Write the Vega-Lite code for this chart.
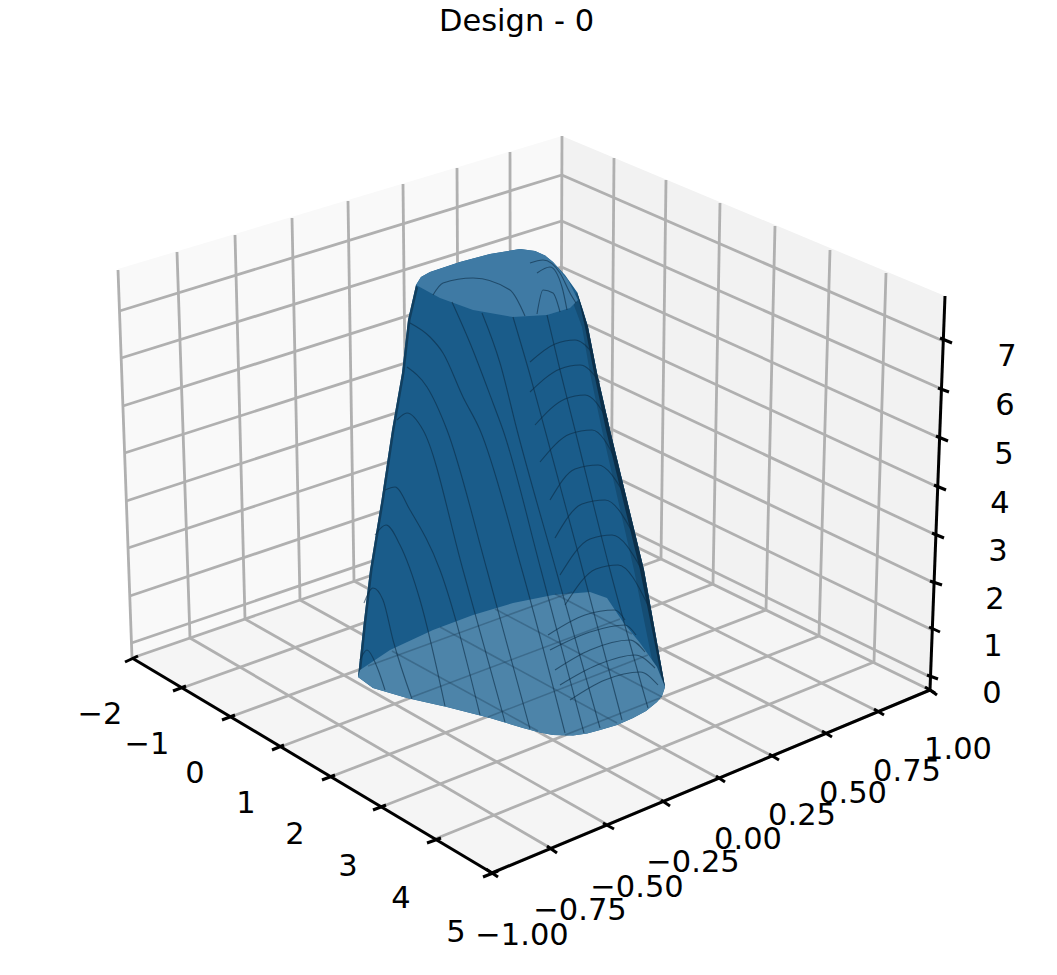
{"$schema":"https://vega.github.io/schema/vega-lite/v6.json","width":1057,"height":975,"padding":0,"autosize":"none","background":"white","view":{"stroke":null},
"title":{"text":"Design - 0","font":"DejaVu Sans","fontSize":30.5,"fontWeight":"normal","color":"#000000","anchor":"middle","orient":"top","offset":-37,"dx":-12},
"datasets":{
"panes":[
{"part":"left wall","i":0,"x":118,"y":269},{"part":"left wall","i":1,"x":562,"y":136},{"part":"left wall","i":2,"x":560.5,"y":510},{"part":"left wall","i":3,"x":132,"y":658},
{"part":"right wall","i":0,"x":562,"y":136},{"part":"right wall","i":1,"x":945,"y":296},{"part":"right wall","i":2,"x":930,"y":690},{"part":"right wall","i":3,"x":560.5,"y":510},
{"part":"floor","i":0,"x":132,"y":658},{"part":"floor","i":1,"x":560.5,"y":510},{"part":"floor","i":2,"x":930,"y":690},{"part":"floor","i":3,"x":492,"y":873}],
"grid":[
{"a":118,"b":270,"c":132,"d":658},{"a":177,"b":252,"c":190,"d":638},{"a":235,"b":235,"c":245,"d":619},{"a":292,"b":218,"c":300,"d":600},{"a":348,"b":201,"c":354,"d":581},{"a":403,"b":184,"c":407,"d":563},{"a":457,"b":168,"c":459,"d":545},{"a":510,"b":152,"c":510.5,"d":527},{"a":562,"b":136,"c":560.5,"d":510},
{"a":614,"b":158,"c":611,"d":534},{"a":666,"b":180,"c":661,"d":559},{"a":720,"b":203,"c":713,"d":584},{"a":775,"b":226,"c":766,"d":610},{"a":830,"b":250,"c":819,"d":636},{"a":886,"b":273,"c":874,"d":662},
{"a":131.5,"b":643,"c":560.6,"d":497},{"a":129.8,"b":596,"c":560.7,"d":451},{"a":128,"b":548,"c":560.9,"d":405},{"a":126.3,"b":501,"c":561.1,"d":359},{"a":124.6,"b":453,"c":561.3,"d":313},{"a":122.9,"b":406,"c":561.5,"d":267},{"a":121.2,"b":358,"c":561.7,"d":221},{"a":119.5,"b":311,"c":561.8,"d":175},
{"a":560.6,"b":497,"c":930.5,"d":677},{"a":560.7,"b":451,"c":932.3,"d":630},{"a":560.9,"b":405,"c":934.1,"d":583},{"a":561.1,"b":359,"c":935.9,"d":535},{"a":561.3,"b":313,"c":937.7,"d":487},{"a":561.5,"b":267,"c":939.6,"d":438},{"a":561.7,"b":221,"c":941.5,"d":389},{"a":561.8,"b":175,"c":943.3,"d":341},
{"a":132,"b":658,"c":560.5,"d":510},{"a":182,"b":688,"c":611,"d":534},{"a":230,"b":717,"c":661,"d":559},{"a":280,"b":747,"c":713,"d":584},{"a":330,"b":777,"c":766,"d":610},{"a":381,"b":807,"c":819,"d":636},{"a":435,"b":839,"c":874,"d":662},{"a":491,"b":873,"c":930,"d":690},
{"a":552,"b":849,"c":190,"d":638},{"a":608,"b":825,"c":245,"d":619},{"a":665,"b":802,"c":300,"d":600},{"a":720,"b":779,"c":354,"d":581},{"a":774,"b":757,"c":407,"d":563},{"a":827,"b":734,"c":459,"d":545},{"a":879,"b":712,"c":510.5,"d":527},{"a":930,"b":690,"c":560.5,"d":510}],
"body":[
{"part":"side","i":0,"x":416,"y":285},{"part":"side","i":1,"x":408,"y":320},{"part":"side","i":2,"x":402,"y":373},{"part":"side","i":3,"x":392,"y":430},{"part":"side","i":4,"x":381.5,"y":500},{"part":"side","i":5,"x":370,"y":570},{"part":"side","i":5.5,"x":363.5,"y":625},{"part":"side","i":6,"x":358,"y":677},{"part":"side","i":7,"x":373,"y":688},{"part":"side","i":8,"x":407,"y":698},{"part":"side","i":9,"x":447,"y":707},{"part":"side","i":10,"x":490,"y":718},{"part":"side","i":11,"x":523,"y":728},{"part":"side","i":11.5,"x":540,"y":732.5},{"part":"side","i":12,"x":553,"y":735},{"part":"side","i":13,"x":573,"y":735.5},{"part":"side","i":13.5,"x":587,"y":733.5},{"part":"side","i":14,"x":600,"y":730},{"part":"side","i":14.5,"x":617,"y":725},{"part":"side","i":15,"x":633,"y":718},{"part":"side","i":15.5,"x":646,"y":711},{"part":"side","i":16,"x":657,"y":702},{"part":"side","i":16.5,"x":662,"y":696},{"part":"side","i":17,"x":665,"y":687},{"part":"side","i":18,"x":644,"y":570},{"part":"side","i":19,"x":627,"y":500},{"part":"side","i":20,"x":610,"y":430},{"part":"side","i":21,"x":597,"y":373},{"part":"side","i":22,"x":588,"y":327},{"part":"side","i":22.5,"x":583,"y":310},{"part":"side","i":23,"x":577,"y":292},{"part":"side","i":23.5,"x":565,"y":275},{"part":"side","i":24,"x":553,"y":262},{"part":"side","i":24.5,"x":545,"y":255.5},{"part":"side","i":25,"x":535,"y":251},{"part":"side","i":26,"x":520,"y":249},{"part":"side","i":27,"x":490,"y":254},{"part":"side","i":28,"x":460,"y":262},{"part":"side","i":29,"x":430,"y":272},{"part":"side","i":29.5,"x":421,"y":277},
{"part":"shade right","i":0,"x":577,"y":292},{"part":"shade right","i":1,"x":588,"y":327},{"part":"shade right","i":2,"x":597,"y":373},{"part":"shade right","i":3,"x":610,"y":430},{"part":"shade right","i":4,"x":627,"y":500},{"part":"shade right","i":5,"x":644,"y":570},{"part":"shade right","i":6,"x":665,"y":687},{"part":"shade right","i":7,"x":655,"y":675},{"part":"shade right","i":8,"x":634,"y":570},{"part":"shade right","i":9,"x":618,"y":500},{"part":"shade right","i":10,"x":602,"y":430},{"part":"shade right","i":11,"x":590,"y":373},{"part":"shade right","i":12,"x":582,"y":327},{"part":"shade right","i":13,"x":572,"y":300},
{"part":"edge right","i":0,"x":577,"y":292},{"part":"edge right","i":1,"x":588,"y":327},{"part":"edge right","i":2,"x":597,"y":373},{"part":"edge right","i":3,"x":610,"y":430},{"part":"edge right","i":4,"x":627,"y":500},{"part":"edge right","i":5,"x":644,"y":570},{"part":"edge right","i":6,"x":665,"y":687},{"part":"edge right","i":7,"x":661,"y":675},{"part":"edge right","i":8,"x":640,"y":570},{"part":"edge right","i":9,"x":623,"y":500},{"part":"edge right","i":10,"x":606,"y":430},{"part":"edge right","i":11,"x":594,"y":373},{"part":"edge right","i":12,"x":585,"y":327},
{"part":"edge left","i":0,"x":416,"y":285},{"part":"edge left","i":1,"x":408,"y":320},{"part":"edge left","i":2,"x":402,"y":373},{"part":"edge left","i":3,"x":392,"y":430},{"part":"edge left","i":4,"x":381.5,"y":500},{"part":"edge left","i":5,"x":370,"y":570},{"part":"edge left","i":5.5,"x":363.5,"y":625},{"part":"edge left","i":6,"x":358,"y":677},{"part":"edge left","i":7,"x":361,"y":672},{"part":"edge left","i":7.5,"x":366,"y":625},{"part":"edge left","i":8,"x":372.5,"y":570},{"part":"edge left","i":9,"x":384,"y":500},{"part":"edge left","i":10,"x":394.5,"y":430},{"part":"edge left","i":11,"x":404.5,"y":373},{"part":"edge left","i":12,"x":410.5,"y":320},{"part":"edge left","i":13,"x":418,"y":288},
{"part":"top","i":0,"x":416,"y":285},{"part":"top","i":0.5,"x":421,"y":277},{"part":"top","i":1,"x":430,"y":272},{"part":"top","i":2,"x":460,"y":262},{"part":"top","i":3,"x":490,"y":254},{"part":"top","i":4,"x":520,"y":249},{"part":"top","i":5,"x":535,"y":251},{"part":"top","i":5.5,"x":545,"y":255.5},{"part":"top","i":6,"x":553,"y":262},{"part":"top","i":7,"x":568,"y":280},{"part":"top","i":8,"x":578,"y":300},{"part":"top","i":9,"x":570,"y":308},{"part":"top","i":10,"x":547,"y":315},{"part":"top","i":11,"x":513,"y":317},{"part":"top","i":12,"x":473,"y":310},{"part":"top","i":13,"x":440,"y":298},
{"part":"bottom","i":0,"x":358,"y":677},{"part":"bottom","i":1,"x":360,"y":670},{"part":"bottom","i":2,"x":390,"y":650},{"part":"bottom","i":3,"x":433,"y":630},{"part":"bottom","i":4,"x":473,"y":615},{"part":"bottom","i":5,"x":513,"y":603},{"part":"bottom","i":6,"x":553,"y":595},{"part":"bottom","i":7,"x":590,"y":592},{"part":"bottom","i":8,"x":607,"y":598},{"part":"bottom","i":9,"x":623,"y":622},{"part":"bottom","i":10,"x":640,"y":643},{"part":"bottom","i":11,"x":657,"y":667},{"part":"bottom","i":12,"x":665,"y":687},{"part":"bottom","i":12.5,"x":662,"y":696},{"part":"bottom","i":13,"x":657,"y":702},{"part":"bottom","i":13.5,"x":646,"y":711},{"part":"bottom","i":14,"x":633,"y":718},{"part":"bottom","i":14.5,"x":617,"y":725},{"part":"bottom","i":15,"x":600,"y":730},{"part":"bottom","i":15.5,"x":587,"y":733.5},{"part":"bottom","i":16,"x":573,"y":735.5},{"part":"bottom","i":17,"x":553,"y":735},{"part":"bottom","i":17.5,"x":540,"y":732.5},{"part":"bottom","i":18,"x":523,"y":728},{"part":"bottom","i":19,"x":490,"y":718},{"part":"bottom","i":20,"x":447,"y":707},{"part":"bottom","i":21,"x":407,"y":698},{"part":"bottom","i":22,"x":373,"y":688}],
"through":[
{"a":392,"b":651,"c":538,"d":731},{"a":440,"b":627,"c":617,"d":723},{"a":495,"b":609,"c":662,"d":697},{"a":555,"b":594,"c":632,"d":634},{"a":412,"b":697,"c":620,"d":619},{"a":368,"b":666,"c":572,"d":592},{"a":488,"b":717,"c":648,"d":655},{"a":565,"b":735,"c":660,"d":698}],
"curves":[
{"c":"a1","i":0,"x":410,"y":323},{"c":"a1","i":1,"x":430,"y":337},{"c":"a1","i":2,"x":443,"y":353},{"c":"a1","i":3,"x":463,"y":397},{"c":"a1","i":4,"x":480,"y":430},{"c":"a1","i":5,"x":522,"y":570},{"c":"a1","i":6,"x":565,"y":733},
{"c":"a2","i":0,"x":452,"y":302},{"c":"a2","i":1,"x":470,"y":343},{"c":"a2","i":2,"x":493,"y":403},{"c":"a2","i":3,"x":503,"y":430},{"c":"a2","i":4,"x":541,"y":570},{"c":"a2","i":5,"x":584,"y":733},
{"c":"a3","i":0,"x":482,"y":313},{"c":"a3","i":1,"x":500,"y":363},{"c":"a3","i":2,"x":517,"y":430},{"c":"a3","i":3,"x":556,"y":570},{"c":"a3","i":4,"x":600,"y":728},
{"c":"a4","i":0,"x":407,"y":367},{"c":"a4","i":1,"x":427,"y":387},{"c":"a4","i":2,"x":447,"y":430},{"c":"a4","i":3,"x":487,"y":570},{"c":"a4","i":4,"x":530,"y":729},
{"c":"a5","i":0,"x":397,"y":420},{"c":"a5","i":1,"x":407,"y":413},{"c":"a5","i":2,"x":423,"y":430},{"c":"a5","i":3,"x":463,"y":570},{"c":"a5","i":4,"x":505,"y":722},
{"c":"a6","i":0,"x":385,"y":490},{"c":"a6","i":1,"x":395,"y":487},{"c":"a6","i":2,"x":410,"y":510},{"c":"a6","i":3,"x":440,"y":570},{"c":"a6","i":4,"x":480,"y":715},
{"c":"a7","i":0,"x":375,"y":535},{"c":"a7","i":1,"x":386,"y":525},{"c":"a7","i":2,"x":400,"y":545},{"c":"a7","i":3,"x":420,"y":600},{"c":"a7","i":4,"x":445,"y":706},
{"c":"a8","i":0,"x":364,"y":603},{"c":"a8","i":1,"x":373,"y":588},{"c":"a8","i":2,"x":383,"y":600},{"c":"a8","i":3,"x":393,"y":640},{"c":"a8","i":4,"x":412,"y":699},
{"c":"a9","i":0,"x":360,"y":660},{"c":"a9","i":1,"x":367,"y":650},{"c":"a9","i":2,"x":377,"y":667},{"c":"a9","i":3,"x":385,"y":690},
{"c":"b1","i":0,"x":513,"y":317},{"c":"b1","i":1,"x":530,"y":375},{"c":"b1","i":2,"x":545,"y":430},{"c":"b1","i":3,"x":580,"y":560},{"c":"b1","i":4,"x":622,"y":720},
{"c":"b2","i":0,"x":547,"y":315},{"c":"b2","i":1,"x":560,"y":370},{"c":"b2","i":2,"x":575,"y":430},{"c":"b2","i":3,"x":610,"y":570},{"c":"b2","i":4,"x":648,"y":708},
{"c":"d1","i":0,"x":530,"y":362},{"c":"d1","i":1,"x":555,"y":344},{"c":"d1","i":2,"x":575,"y":340},{"c":"d1","i":3,"x":592,"y":352},
{"c":"d2","i":0,"x":530,"y":392},{"c":"d2","i":1,"x":560,"y":369},{"c":"d2","i":2,"x":580,"y":365},{"c":"d2","i":3,"x":600,"y":382},
{"c":"d3","i":0,"x":535,"y":425},{"c":"d3","i":1,"x":565,"y":399},{"c":"d3","i":2,"x":585,"y":395},{"c":"d3","i":3,"x":608,"y":420},
{"c":"d4","i":0,"x":540,"y":462},{"c":"d4","i":1,"x":570,"y":434},{"c":"d4","i":2,"x":592,"y":430},{"c":"d4","i":3,"x":617,"y":462},
{"c":"d5","i":0,"x":550,"y":500},{"c":"d5","i":1,"x":575,"y":469},{"c":"d5","i":2,"x":598,"y":465},{"c":"d5","i":3,"x":625,"y":495},
{"c":"d6","i":0,"x":555,"y":538},{"c":"d6","i":1,"x":582,"y":504},{"c":"d6","i":2,"x":605,"y":500},{"c":"d6","i":3,"x":634,"y":535},
{"c":"d7","i":0,"x":560,"y":575},{"c":"d7","i":1,"x":590,"y":539},{"c":"d7","i":2,"x":612,"y":535},{"c":"d7","i":3,"x":642,"y":570},
{"c":"d8","i":0,"x":565,"y":605},{"c":"d8","i":1,"x":596,"y":569},{"c":"d8","i":2,"x":618,"y":565},{"c":"d8","i":3,"x":648,"y":605},
{"c":"f1","i":0,"x":570,"y":700},{"c":"f1","i":1,"x":605,"y":680},{"c":"f1","i":2,"x":640,"y":672},{"c":"f1","i":3,"x":658,"y":685},
{"c":"f2","i":0,"x":560,"y":685},{"c":"f2","i":1,"x":597,"y":665},{"c":"f2","i":2,"x":635,"y":655},{"c":"f2","i":3,"x":655,"y":668},
{"c":"f3","i":0,"x":555,"y":670},{"c":"f3","i":1,"x":590,"y":650},{"c":"f3","i":2,"x":630,"y":640},{"c":"f3","i":3,"x":645,"y":652},
{"c":"f4","i":0,"x":550,"y":650},{"c":"f4","i":1,"x":590,"y":632},{"c":"f4","i":2,"x":625,"y":625},{"c":"f4","i":3,"x":636,"y":635},
{"c":"f5","i":0,"x":548,"y":635},{"c":"f5","i":1,"x":585,"y":615},{"c":"f5","i":2,"x":615,"y":610},{"c":"f5","i":3,"x":625,"y":620},
{"c":"t1","i":0,"x":530,"y":263},{"c":"t1","i":1,"x":543,"y":260},{"c":"t1","i":2,"x":560,"y":273},{"c":"t1","i":3,"x":570,"y":293},{"c":"t1","i":4,"x":576,"y":303},
{"c":"t2","i":0,"x":537,"y":273},{"c":"t2","i":1,"x":550,"y":267},{"c":"t2","i":2,"x":562,"y":287},{"c":"t2","i":3,"x":567,"y":310},
{"c":"t3","i":0,"x":537,"y":314},{"c":"t3","i":1,"x":543,"y":290},{"c":"t3","i":2,"x":553,"y":293},{"c":"t3","i":3,"x":560,"y":312},
{"c":"t4","i":0,"x":433,"y":295},{"c":"t4","i":1,"x":443,"y":283},{"c":"t4","i":2,"x":473,"y":278},{"c":"t4","i":3,"x":510,"y":290},{"c":"t4","i":4,"x":525,"y":316}],
"axes":[
{"a":132,"b":658,"c":492,"d":873},{"a":492,"b":873,"c":930,"d":690},{"a":930,"b":690,"c":945,"d":296},
{"a":125,"b":662,"c":138,"d":656},{"a":173,"b":691,"c":186,"d":686},{"a":222,"b":720,"c":235,"d":715},{"a":272,"b":750,"c":284,"d":745},{"a":322,"b":780,"c":335,"d":775},{"a":373,"b":810,"c":386,"d":805},{"a":427,"b":843,"c":441,"d":838},{"a":483,"b":877,"c":498,"d":871},
{"a":486,"b":869,"c":498,"d":877},{"a":547,"b":846,"c":557,"d":853},{"a":603,"b":823,"c":614,"d":829},{"a":661,"b":800,"c":670,"d":806},{"a":716,"b":776,"c":725,"d":782},{"a":769,"b":754,"c":779,"d":760},{"a":822,"b":731,"c":832,"d":737},{"a":874,"b":709,"c":884,"d":715},{"a":925,"b":687,"c":935,"d":693},
{"a":927,"b":675,"c":938,"d":679},{"a":929,"b":627,"c":940,"d":632},{"a":930,"b":581,"c":942,"d":585},{"a":932,"b":533,"c":944,"d":538},{"a":934,"b":485,"c":946,"d":490},{"a":936,"b":436,"c":948,"d":441},{"a":938,"b":388,"c":949,"d":392},{"a":940,"b":338,"c":952,"d":343},{"a":930,"b":690,"c":937,"d":695}],
"labels":[
{"t":"−2","x":100,"y":713},{"t":"−1","x":147,"y":743},{"t":"0","x":195,"y":772},{"t":"1","x":246,"y":802},{"t":"2","x":295,"y":833},{"t":"3","x":348,"y":865},{"t":"4","x":401,"y":897},{"t":"5","x":456,"y":931},
{"t":"−1.00","x":522,"y":934},{"t":"−0.75","x":580,"y":909},{"t":"−0.50","x":637,"y":886},{"t":"−0.25","x":693,"y":861},{"t":"0.00","x":748,"y":838},{"t":"0.25","x":802,"y":814},{"t":"0.50","x":853,"y":792},{"t":"0.75","x":907,"y":770},{"t":"1.00","x":958,"y":748},
{"t":"0","x":992,"y":692},{"t":"1","x":993,"y":645},{"t":"2","x":995,"y":598},{"t":"3","x":998,"y":550},{"t":"4","x":1000,"y":502},{"t":"5","x":1004,"y":453},{"t":"6","x":1005,"y":404},{"t":"7","x":1007,"y":355}]
},
"layer":[
{"data":{"name":"panes"},"mark":{"type":"line","strokeWidth":0},
"encoding":{"x":{"field":"x","type":"quantitative","scale":{"domain":[0,1057],"nice":false,"zero":false},"axis":null},"y":{"field":"y","type":"quantitative","scale":{"domain":[975,0],"nice":false,"zero":false},"axis":null},"order":{"field":"i"},"fill":{"field":"part","type":"nominal","legend":null,"scale":{"domain":["left wall","right wall","floor","side","shade right","edge right","edge left","top","bottom"],"range":["#f9f9f9","#f2f2f2","#f5f5f5","#1a5c8a","#154d74","#0c2f49","#123f5f","#3f7aa4","#4d84a9"]}}}},
{"data":{"name":"grid"},"mark":{"type":"rule","color":"#b0b0b0","strokeWidth":2.8},
"encoding":{"x":{"field":"a","type":"quantitative"},"y":{"field":"b","type":"quantitative"},"x2":{"field":"c"},"y2":{"field":"d"}}},
{"data":{"name":"axes"},"mark":{"type":"rule","color":"#000000","strokeWidth":3},
"encoding":{"x":{"field":"a","type":"quantitative"},"y":{"field":"b","type":"quantitative"},"x2":{"field":"c"},"y2":{"field":"d"}}},
{"data":{"name":"body"},"mark":{"type":"line","strokeWidth":0},
"encoding":{"x":{"field":"x","type":"quantitative"},"y":{"field":"y","type":"quantitative"},"order":{"field":"i"},"fill":{"field":"part","type":"nominal","legend":null,"scale":{"domain":["left wall","right wall","floor","side","shade right","edge right","edge left","top","bottom"],"range":["#f9f9f9","#f2f2f2","#f5f5f5","#1a5c8a","#154d74","#0c2f49","#123f5f","#3f7aa4","#4d84a9"]}}}},
{"data":{"name":"through"},"mark":{"type":"rule","color":"#1d3d56","strokeWidth":1.6,"opacity":0.35},
"encoding":{"x":{"field":"a","type":"quantitative"},"y":{"field":"b","type":"quantitative"},"x2":{"field":"c"},"y2":{"field":"d"}}},
{"data":{"name":"curves"},"mark":{"type":"line","color":"#0b2c44","strokeWidth":1.1,"opacity":0.6,"interpolate":"monotone"},
"encoding":{"x":{"field":"x","type":"quantitative"},"y":{"field":"y","type":"quantitative"},"order":{"field":"i"},"detail":{"field":"c"}}},
{"data":{"name":"labels"},"mark":{"type":"text","font":"DejaVu Sans","fontSize":30.5,"align":"center","baseline":"middle","dy":2,"color":"#000000"},
"encoding":{"x":{"field":"x","type":"quantitative"},"y":{"field":"y","type":"quantitative"},"text":{"field":"t"}}}
]}
